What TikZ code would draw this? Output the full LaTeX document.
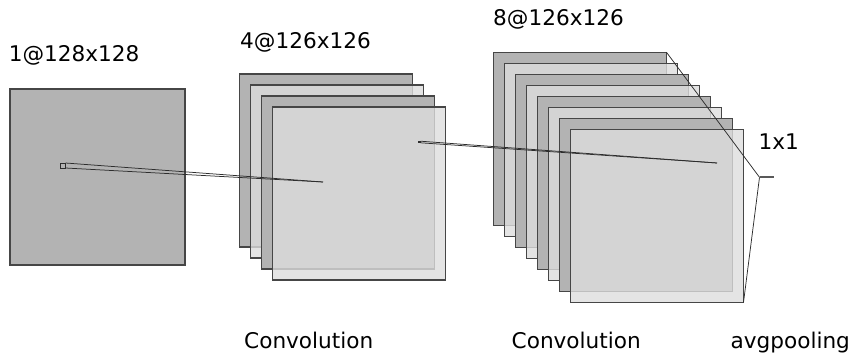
\documentclass[tikz,border=0pt]{standalone}
\usepackage{fontspec}
\setmainfont{DejaVu Sans}
\definecolor{mapdark}{RGB}{179,179,179}
\definecolor{maplight}{RGB}{221,221,221}
\definecolor{mapedge}{RGB}{70,70,70}
\definecolor{connline}{RGB}{45,45,45}
\begin{document}
\begin{tikzpicture}[x=1pt,y=-1pt,
  fmap/.style={draw=mapedge, line width=1.3pt},
  darkmap/.style={fmap, fill=mapdark},
  lightmap/.style={fmap, fill=maplight, fill opacity=0.8},
  conn/.style={draw=connline, line width=0.75pt},
  outseg/.style={draw=black!65, line width=1.8pt},
  lbl/.style={anchor=base west, inner sep=0pt, font=\fontsize{21.6}{26}\selectfont, text=black}]
\useasboundingbox (0,0) rectangle (853,356);

% input map
\draw[darkmap] (10,89) rectangle (185,265);

% first convolution stack (4 maps)
\draw[darkmap]  (239.5,74)  rectangle ++(173,173);
\draw[lightmap] (250.5,85)  rectangle ++(173,173);
\draw[darkmap]  (261.5,96)  rectangle ++(173,173);
\draw[lightmap] (272.5,107) rectangle ++(173,173);

% second convolution stack (8 maps)
\draw[darkmap]  (493.5,52.3)  rectangle ++(173,173);
\draw[lightmap] (504.5,63.3)  rectangle ++(173,173);
\draw[darkmap]  (515.5,74.3)  rectangle ++(173,173);
\draw[lightmap] (526.5,85.3)  rectangle ++(173,173);
\draw[darkmap]  (537.5,96.3)  rectangle ++(173,173);
\draw[lightmap] (548.5,107.3) rectangle ++(173,173);
\draw[darkmap]  (559.5,118.3) rectangle ++(173,173);
\draw[lightmap] (570.5,129.3) rectangle ++(173,173);

% kernels and connection points
\draw[conn, line width=0.9pt] (60.5,163) rectangle (65.5,168);
\coordinate (k1a) at (65.5,163);
\coordinate (k1b) at (65.5,168);
\coordinate (t1) at (323,182);
\fill[connline] (418.3,141) rectangle (420.5,143);
\coordinate (k2a) at (420.5,141.2);
\coordinate (k2b) at (420.5,142.8);
\coordinate (t2) at (717,163);
\coordinate (c3a) at (666.5,52.3);
\coordinate (c3b) at (743.5,302.3);
\coordinate (p1) at (759.5,177.3);
\coordinate (p2) at (774.3,177.3);

\draw[conn] (k1a) -- (t1);
\draw[conn] (k1b) -- (t1);
\draw[conn] (k2a) -- (t2);
\draw[conn] (k2b) -- (t2);
\draw[conn] (c3a) -- (p1);
\draw[conn] (c3b) -- (p1);
\draw[outseg] (p1) -- (p2);

% labels
\node[lbl] (l1) at (8.6,61.7) {1@128x128};
\node[lbl] (l2) at (240,48.3) {4@126x126};
\node[lbl] (l3) at (493,25) {8@126x126};
\node[lbl] (l4) at (758.3,149.3) {1x1};
\node[lbl] (c1) at (244,348) {Convolution};
\node[lbl] (c2) at (511.5,348) {Convolution};
\node[lbl] (c3) at (730.4,348) {avgpooling};
\end{tikzpicture}
\end{document}
